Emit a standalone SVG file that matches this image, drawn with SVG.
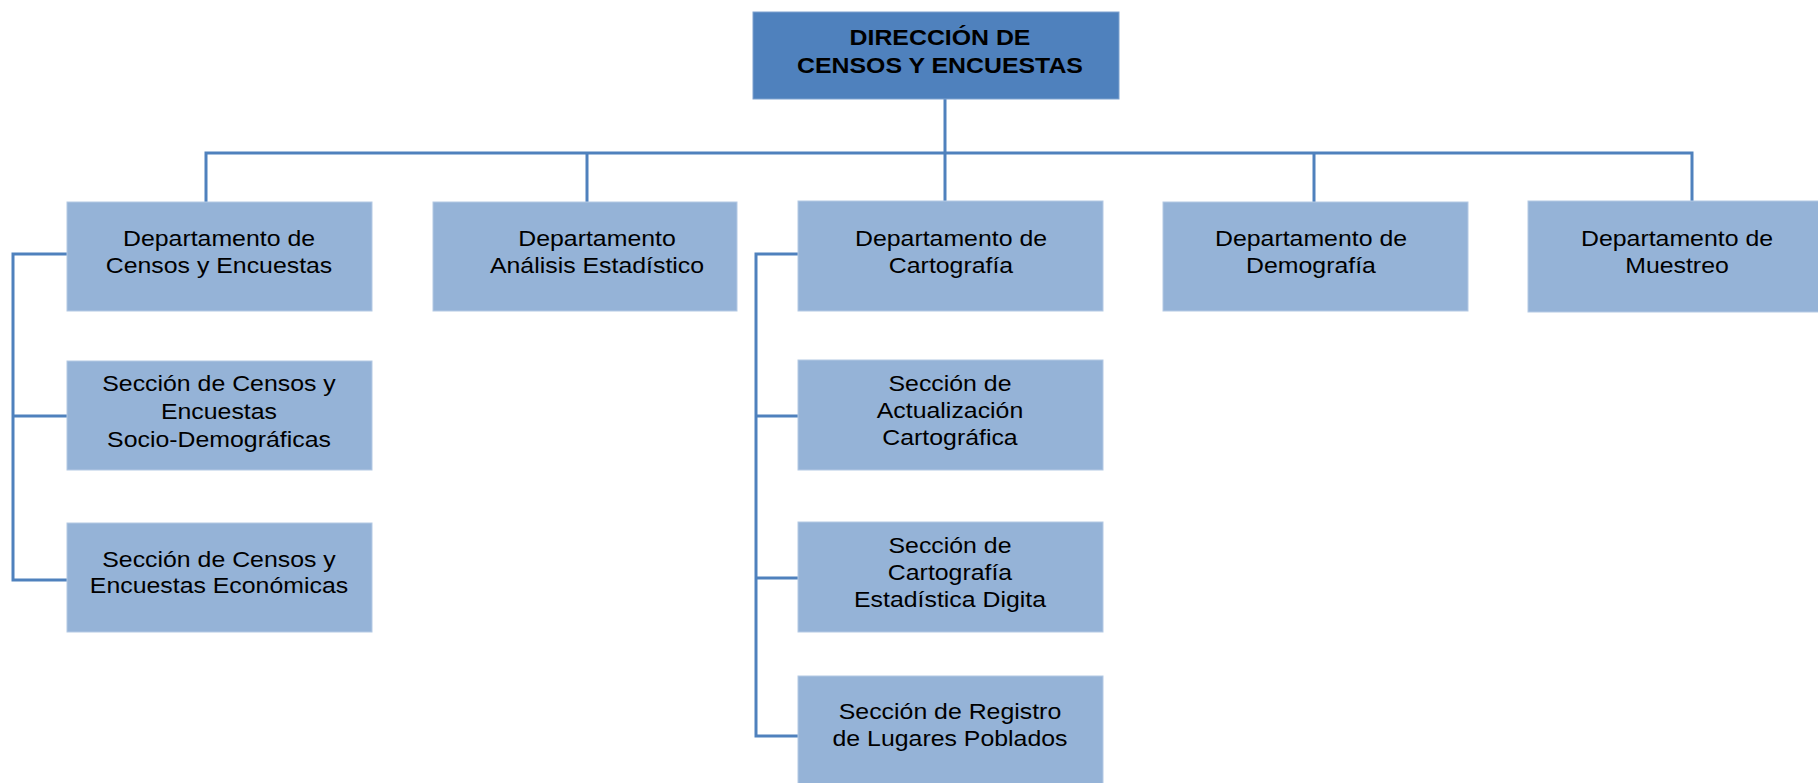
<svg xmlns="http://www.w3.org/2000/svg" width="1818" height="783" viewBox="0 0 1818 783">
  <style>
    .bg { fill: #ffffff; }
    .main { fill: #4F81BD; stroke: #7FA2CF; stroke-width: 1; }
    .box { fill: #95B3D7; stroke: #B4C9E4; stroke-width: 1; }
    .t { font-family: "Liberation Sans", Arial, sans-serif; font-size: 22px; fill: #000000; text-anchor: middle; }
    .tb { font-weight: bold; }
    .conn { fill: none; stroke: #4F81BD; stroke-width: 3; }
  </style>
  <rect class="bg" x="0" y="0" width="1818" height="783"/>

  <g id="connectors">
    <path class="conn" d="M945 99 V153"/>
    <path class="conn" d="M206 202 V153 H1692 V201"/>
    <path class="conn" d="M587 153 V202"/>
    <path class="conn" d="M945 153 V201"/>
    <path class="conn" d="M1314 153 V202"/>
    <path class="conn" d="M67 254 H13 V580 H67"/>
    <path class="conn" d="M13 416 H67"/>
    <path class="conn" d="M798 254 H756 V736 H798"/>
    <path class="conn" d="M756 416 H798"/>
    <path class="conn" d="M756 578 H798"/>
  </g>

  <g id="direccion">
    <rect class="main" x="753" y="12" width="366" height="87"/>
    <text class="t tb" transform="translate(940 45) scale(1.13 1)"><tspan x="0" y="0">DIRECCIÓN DE</tspan><tspan x="0" dy="28">CENSOS Y ENCUESTAS</tspan></text>
  </g>

  <g id="dep-censos">
    <rect class="box" x="67" y="202" width="305" height="109"/>
    <text class="t" transform="translate(219 245.5) scale(1.13 1)"><tspan x="0" y="0">Departamento de</tspan><tspan x="0" dy="27.5">Censos y Encuestas</tspan></text>
  </g>

  <g id="dep-analisis">
    <rect class="box" x="433" y="202" width="304" height="109"/>
    <text class="t" transform="translate(597 245.5) scale(1.13 1)"><tspan x="0" y="0">Departamento</tspan><tspan x="0" dy="27.5">Análisis Estadístico</tspan></text>
  </g>

  <g id="dep-cartografia">
    <rect class="box" x="798" y="201" width="305" height="110"/>
    <text class="t" transform="translate(951 245.5) scale(1.13 1)"><tspan x="0" y="0">Departamento de</tspan><tspan x="0" dy="27.5">Cartografía</tspan></text>
  </g>

  <g id="dep-demografia">
    <rect class="box" x="1163" y="202" width="305" height="109"/>
    <text class="t" transform="translate(1311 245.5) scale(1.13 1)"><tspan x="0" y="0">Departamento de</tspan><tspan x="0" dy="27.5">Demografía</tspan></text>
  </g>

  <g id="dep-muestreo">
    <rect class="box" x="1528" y="201" width="305" height="111"/>
    <text class="t" transform="translate(1677 245.5) scale(1.13 1)"><tspan x="0" y="0">Departamento de</tspan><tspan x="0" dy="27.5">Muestreo</tspan></text>
  </g>

  <g id="sec-socio">
    <rect class="box" x="67" y="361" width="305" height="109"/>
    <text class="t" transform="translate(219 391) scale(1.13 1)"><tspan x="0" y="0">Sección de Censos y</tspan><tspan x="0" dy="27.8">Encuestas</tspan><tspan x="0" dy="27.8">Socio-Demográficas</tspan></text>
  </g>

  <g id="sec-economicas">
    <rect class="box" x="67" y="523" width="305" height="109"/>
    <text class="t" transform="translate(219 567) scale(1.13 1)"><tspan x="0" y="0">Sección de Censos y</tspan><tspan x="0" dy="26.5">Encuestas Económicas</tspan></text>
  </g>

  <g id="sec-actualizacion">
    <rect class="box" x="798" y="360" width="305" height="110"/>
    <text class="t" transform="translate(950 390.5) scale(1.13 1)"><tspan x="0" y="0">Sección de</tspan><tspan x="0" dy="27.5">Actualización</tspan><tspan x="0" dy="27.5">Cartográfica</tspan></text>
  </g>

  <g id="sec-digital">
    <rect class="box" x="798" y="522" width="305" height="110"/>
    <text class="t" transform="translate(950 552.5) scale(1.13 1)"><tspan x="0" y="0">Sección de</tspan><tspan x="0" dy="27.5">Cartografía</tspan><tspan x="0" dy="27.5">Estadística Digita</tspan></text>
  </g>

  <g id="sec-registro">
    <rect class="box" x="798" y="676" width="305" height="110"/>
    <text class="t" transform="translate(950 719) scale(1.13 1)"><tspan x="0" y="0">Sección de Registro</tspan><tspan x="0" dy="27.5">de Lugares Poblados</tspan></text>
  </g>
</svg>
